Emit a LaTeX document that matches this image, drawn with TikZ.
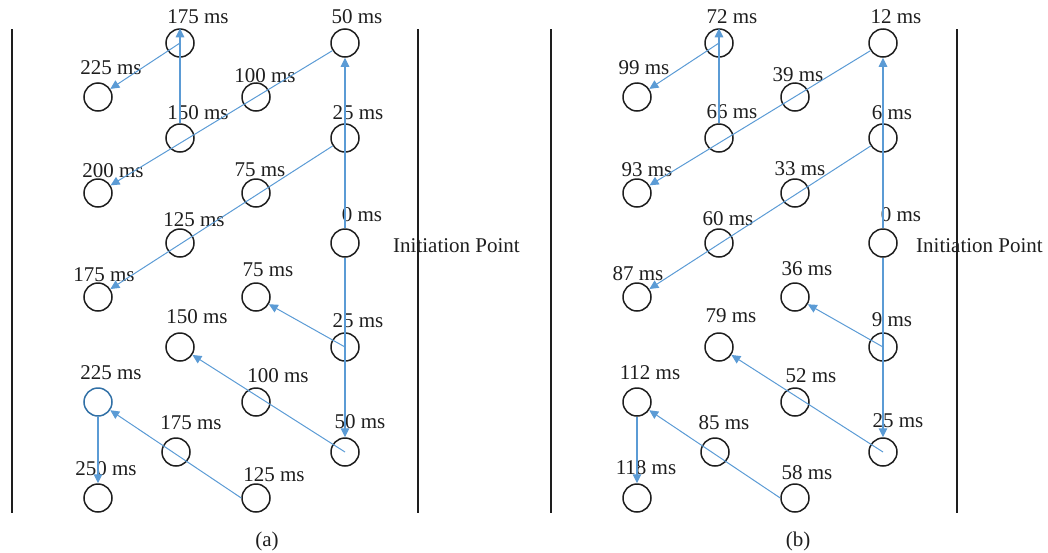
\documentclass[tikz,border=0pt]{standalone}
\usepackage{fontspec}
\setmainfont{Liberation Serif}
\usetikzlibrary{arrows.meta}
\definecolor{arrowblue}{RGB}{91,155,213}
\definecolor{ringblue}{RGB}{49,112,166}
\definecolor{inkblack}{RGB}{30,30,30}
\begin{document}
\begin{tikzpicture}[x=1pt,y=-1pt,
  ring/.style={circle,draw=inkblack,line width=1.5pt,minimum size=28pt,inner sep=0pt},
  lbl/.style={inner sep=0pt,font=\fontsize{21}{25}\selectfont,text=inkblack},
  link/.style={draw=arrowblue,line width=1pt,-{Triangle[length=9pt,width=8.5pt]}},
  vlink/.style={link,line width=1.1pt},
  panelline/.style={line width=1.4pt,draw=inkblack}]
\useasboundingbox (0,0) rectangle (1048,552);

% ---------- panel (a) ----------
\coordinate (aLt) at (12,29);  \coordinate (aLb) at (12,513);
\coordinate (aRt) at (418,29); \coordinate (aRb) at (418,513);
\draw[panelline] (aLt) -- (aLb);
\draw[panelline] (aRt) -- (aRb);

\node[ring] (a175t) at (180,43) {};
\node[ring] (a50t)  at (345,43) {};
\node[ring] (a225t) at (98,97) {};
\node[ring] (a100t) at (256,97) {};
\node[ring] (a150t) at (180,138) {};
\node[ring] (a25t)  at (345,138) {};
\node[ring] (a200)  at (98,193) {};
\node[ring] (a75t)  at (256,193) {};
\node[ring] (a125t) at (180,243) {};
\node[ring] (a0)    at (345,243) {};
\node[ring] (a175l) at (98,297) {};
\node[ring] (a75b)  at (256,297) {};
\node[ring] (a150b) at (180,347) {};
\node[ring] (a25b)  at (345,347) {};
\node[ring,draw=ringblue] (a225b) at (98,402) {};
\node[ring] (a100b) at (256,402) {};
\node[ring] (a175b) at (176,452) {};
\node[ring] (a50b)  at (345,452) {};
\node[ring] (a250)  at (98,498) {};
\node[ring] (a125b) at (256,498) {};

\node[lbl] (la175t) at (198,17) {175 ms};
\node[lbl] (la50t)  at (357,17) {50 ms};
\node[lbl] (la225t) at (111,68) {225 ms};
\node[lbl] (la100t) at (265,76) {100 ms};
\node[lbl] (la150t) at (198,113) {150 ms};
\node[lbl] (la25t)  at (358,113) {25 ms};
\node[lbl] (la200)  at (113,171) {200 ms};
\node[lbl] (la75t)  at (260,170) {75 ms};
\node[lbl] (la125t) at (194,220) {125 ms};
\node[lbl] (la0)    at (362,215) {0 ms};
\node[lbl,anchor=base west] (laInit) at (393,252) {Initiation Point};
\node[lbl] (la175l) at (104,275) {175 ms};
\node[lbl] (la75b)  at (268,270) {75 ms};
\node[lbl] (la150b) at (197,317) {150 ms};
\node[lbl] (la25b)  at (358,321) {25 ms};
\node[lbl] (la225b) at (111,373) {225 ms};
\node[lbl] (la100b) at (278,376) {100 ms};
\node[lbl] (la175b) at (191,423) {175 ms};
\node[lbl] (la50b)  at (360,422) {50 ms};
\node[lbl] (la250)  at (106,469) {250 ms};
\node[lbl] (la125b) at (274,475) {125 ms};
\node[lbl,anchor=base] (capa) at (267,546) {(a)};

\draw[vlink] (a0.north) -- (a50t.south);
\draw[vlink] (a0.south) -- (a50b.north);
\draw[link] (a25t) -- (a175l);
\draw[link] (a50t) -- (a200);
\draw[vlink] (a150t.north) -- (a175t.north);
\draw[link] (a175t.center) -- (a225t);
\draw[link] (a25b.center) -- (a75b);
\draw[link] (a50b.center) -- (a150b);
\draw[link] (a125b.west) -- (a225b);
\draw[vlink] (a225b.south) -- (a250.north);

% ---------- panel (b) ----------
\coordinate (bLt) at (551,29);  \coordinate (bLb) at (551,513);
\coordinate (bRt) at (957,29);  \coordinate (bRb) at (957,513);
\draw[panelline] (bLt) -- (bLb);
\draw[panelline] (bRt) -- (bRb);

\node[ring] (b72)  at (719,43) {};
\node[ring] (b12)  at (883,43) {};
\node[ring] (b99)  at (637,97) {};
\node[ring] (b39)  at (795,97) {};
\node[ring] (b66)  at (719,138) {};
\node[ring] (b6)   at (883,138) {};
\node[ring] (b93)  at (637,193) {};
\node[ring] (b33)  at (795,193) {};
\node[ring] (b60)  at (719,243) {};
\node[ring] (b0)   at (883,243) {};
\node[ring] (b87)  at (637,297) {};
\node[ring] (b36)  at (795,297) {};
\node[ring] (b79)  at (719,347) {};
\node[ring] (b9)   at (883,347) {};
\node[ring] (b112) at (637,402) {};
\node[ring] (b52)  at (795,402) {};
\node[ring] (b85)  at (715,452) {};
\node[ring] (b25)  at (883,452) {};
\node[ring] (b118) at (637,498) {};
\node[ring] (b58)  at (795,498) {};

\node[lbl] (lb72)  at (732,17) {72 ms};
\node[lbl] (lb12)  at (896,17) {12 ms};
\node[lbl] (lb99)  at (644,68) {99 ms};
\node[lbl] (lb39)  at (798,75) {39 ms};
\node[lbl] (lb66)  at (732,112) {66 ms};
\node[lbl] (lb6)   at (892,113) {6 ms};
\node[lbl] (lb93)  at (647,170) {93 ms};
\node[lbl] (lb33)  at (800,169) {33 ms};
\node[lbl] (lb60)  at (728,219) {60 ms};
\node[lbl] (lb0)   at (901,215) {0 ms};
\node[lbl,anchor=base west] (lbInit) at (916,252) {Initiation Point};
\node[lbl] (lb87)  at (638,274) {87 ms};
\node[lbl] (lb36)  at (807,269) {36 ms};
\node[lbl] (lb79)  at (731,316) {79 ms};
\node[lbl] (lb9)   at (892,320) {9 ms};
\node[lbl] (lb112) at (650,373) {112 ms};
\node[lbl] (lb52)  at (811,376) {52 ms};
\node[lbl] (lb85)  at (724,423) {85 ms};
\node[lbl] (lb25)  at (898,421) {25 ms};
\node[lbl] (lb118) at (646,468) {118 ms};
\node[lbl] (lb58)  at (807,473) {58 ms};
\node[lbl,anchor=base] (capb) at (798,546) {(b)};

\draw[vlink] (b0.north) -- (b12.south);
\draw[vlink] (b0.south) -- (b25.north);
\draw[link] (b6) -- (b87);
\draw[link] (b12) -- (b93);
\draw[vlink] (b66.north) -- (b72.north);
\draw[link] (b72.center) -- (b99);
\draw[link] (b9.center) -- (b36);
\draw[link] (b25.center) -- (b79);
\draw[link] (b58.west) -- (b112);
\draw[vlink] (b112.south) -- (b118.north);
\end{tikzpicture}
\end{document}
